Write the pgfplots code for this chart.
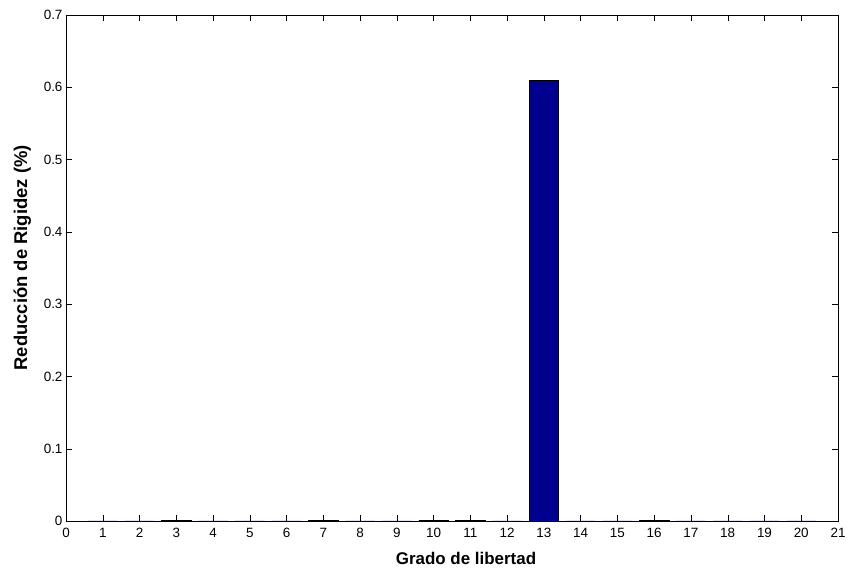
\documentclass[border=0pt]{standalone}
\usepackage{fontspec}
\setmainfont{Liberation Sans}
\usepackage{pgfplots}
\pgfplotsset{compat=1.18}
\definecolor{matnavy}{rgb}{0,0,0.56}
\newcommand{\tickfont}{\fontsize{13.5}{15}\selectfont}

\begin{document}
\begin{tikzpicture}[x=1bp,y=1bp]
\begin{axis}[
    scale only axis,
    width=772bp, height=506bp,
    xmin=0, xmax=21, ymin=0, ymax=0.7,
    xtick={0,1,...,21},
    ytick={0,0.1,...,0.7},
    xticklabel={\tickfont\pgfmathprintnumber[assume math mode=true]{\tick}},
    yticklabel={\tickfont\pgfmathprintnumber[assume math mode=true,fixed,precision=1]{\tick}},
    tick align=inside,
    major tick length=6bp,
    tick style={black, thin},
    axis line style={black, thin},
    xticklabel style={yshift=-4bp},
    xlabel={\textbf{Grado de libertad}},
    ylabel={\textbf{Reducción de Rigidez (\%)}},
    xlabel style={font=\fontsize{17}{19}\selectfont, yshift=-7bp, xshift=14bp},
    ylabel style={font=\fontsize{18.5}{20}\selectfont, at={(ticklabel cs:0.52)}, yshift=6bp},
]
\addplot[ybar, bar width=0.8, fill=matnavy, draw=black, thin] coordinates {
    (1,0) (2,0) (3,0.0012) (4,0) (5,0) (6,0) (7,0.001) (8,0) (9,0)
    (10,0.0012) (11,0.001) (12,0) (13,0.61) (14,0) (15,0) (16,0.001)
    (17,0) (18,0) (19,0) (20,0)
};
\end{axis}
\path (current axis.south west) ++(-66bp,-46bp);
\path (current axis.north east) ++(12bp,15bp);
\end{tikzpicture}
\end{document}
